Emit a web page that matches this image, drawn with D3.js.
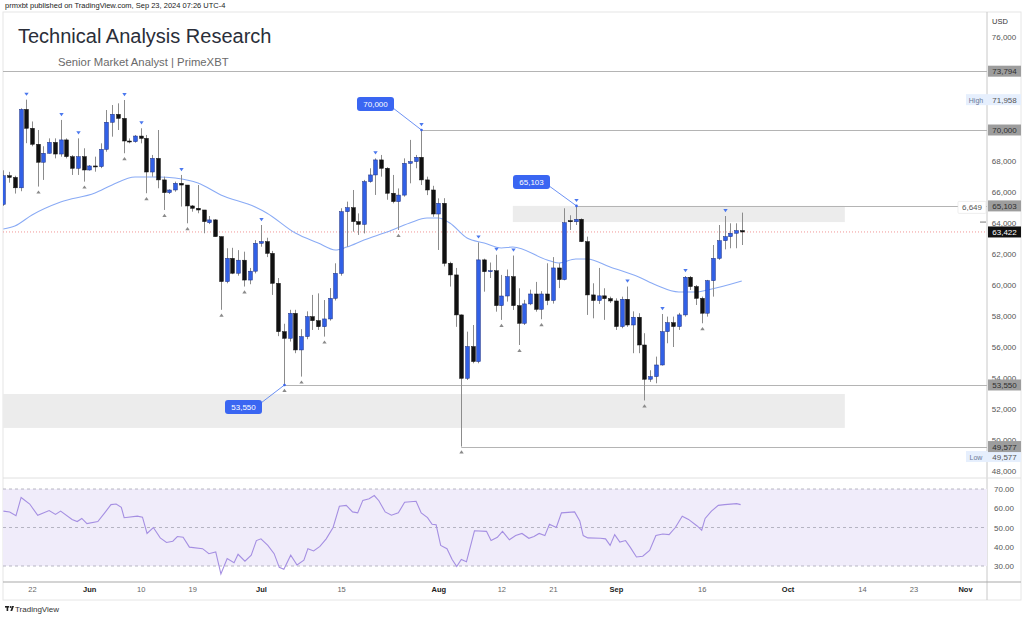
<!DOCTYPE html>
<html>
<head>
<meta charset="utf-8">
<script src="https://cdn.jsdelivr.net/npm/d3@7"></script>
<style>
body{margin:0;background:#fff;}
svg{display:block;font-family:"Liberation Sans",Arial,sans-serif;}
</style>
</head>
<body>
<svg id="chart" width="1024" height="617"></svg>
<script>
// daily candles, BTCUSD, starting 2024-05-17
var firstDay = "2024-05-17";
var opens = [65200,67050,66940,66270,71330,70110,69080,67920,68500,69200,68450,69360,68280,67530,68280,
  67420,67680,67640,68750,70500,71010,70750,69290,69250,69610,69460,67290,68170,66780,65960,66130,66560,66450,65100,64950,64840,64020,64200,63120,60220,61720,60760,61600,60320,60890,
  62690,62800,62040,60110,56990,56560,58170,55810,56670,57960,57700,57310,57810,59140,60750,64730,64990,64090,63910,66670,67100,68070,67530,65920,65380,65800,67850,67960,68240,66780,66130,
  64580,65270,61400,60650,58070,53980,56030,55060,61620,60860,60920,58670,59290,60540,58670,57530,58780,59420,58430,59420,59000,61100,60350,64150,64080,64240,62800,59360,59000,59300,59120,
  58970,57320,59080,57420,57920,56130,53920,54090,54840,56990,57570,57320,58070,60500,59900,59140,58180,60280,61720,62860,63120,63340,63510];
var highs = [67400,67300,67050,71400,71958,70550,70000,68950,69460,69460,70650,69460,68380,69460,68820,
  67740,68280,69140,71290,71610,71720,71935,69460,69680,70110,69680,68390,70000,66990,66170,66670,67100,66450,65160,66450,64840,64450,64250,63120,62370,62400,62250,62150,61100,62900,
  63870,63050,62200,60450,57500,58400,58400,57150,58300,59360,59460,59030,59800,61400,64950,65380,66130,64620,66780,67530,68170,68390,67600,67100,66230,68170,69360,68390,70000,66990,66400,
  65590,65600,61500,61100,58100,56990,57420,62750,61700,61450,61950,60650,61000,61900,59790,59040,59700,60200,59600,61400,61800,61400,64950,64500,65103,64300,63120,60110,61100,59790,59250,
  59140,59250,59900,58300,58180,56890,54500,55380,58130,57960,57960,58200,60580,60580,60000,59250,60330,62580,63870,64450,63980,63980,64670];
var lows = [65100,66600,65900,66050,69150,68950,66350,66780,68480,68170,68280,68170,67100,67100,66670,
  67380,67310,67540,68600,69570,70000,68500,69140,69180,69140,65920,66990,66240,64840,65870,66020,65060,63980,64730,64630,63340,63930,63120,58400,60110,60700,60600,59900,60050,60750,
  62470,61800,59360,56700,53550,56350,55600,54090,56500,57100,57100,56670,57700,59000,60600,62470,63440,63230,63330,66600,65810,66990,65500,65270,63550,65700,66560,67530,66450,65800,64400,
  62260,61200,59900,57300,49577,53870,54950,54950,59570,60450,58280,57750,58930,58390,56130,57420,58700,58280,57790,58700,58800,59800,60300,63550,63870,62770,58070,57850,58780,57750,58840,
  57100,57210,57300,55600,55600,52550,53750,53660,54800,56240,56000,57100,57960,59680,58710,57530,57960,59250,61620,62300,62370,62370,62580];
var closes = [67050,66940,66270,71330,70110,69080,67920,68500,69200,68450,69360,68280,67530,68280,67420,
  67680,67640,68750,70500,71010,70750,69290,69250,69610,69460,67290,68170,66780,65960,66130,66560,66450,65100,64950,64840,64090,64200,63120,60220,61720,60760,61600,60320,60890,62690,
  62800,62040,60110,56990,56560,58170,55810,56670,57960,57700,57310,57810,59140,60750,64730,64990,64090,63910,66670,67100,68070,67530,65920,65380,65800,67850,67960,68240,66780,66130,64580,
  65270,61400,60650,58070,53980,56030,55060,61620,60860,60920,58670,59290,60540,58670,57530,58780,59420,58430,59420,59000,61100,60350,64020,64080,64240,62800,59360,59000,59300,59120,58970,
  57320,59080,57420,57920,56130,53920,54090,54840,56990,57570,57320,58070,60500,59900,59140,58180,60280,61720,62860,63120,63340,63510,63422];

// pivot markers
var pivotHighDays = ["2024-05-21","2024-05-27","2024-05-30","2024-06-07","2024-06-10","2024-06-17","2024-07-01","2024-07-21",
  "2024-07-29","2024-08-08","2024-08-11","2024-08-14","2024-08-25","2024-09-03","2024-09-09","2024-09-13","2024-09-20"];
var pivotLowDays = ["2024-05-23","2024-05-31","2024-06-07","2024-06-11","2024-06-14","2024-06-18","2024-06-24","2024-06-28","2024-07-05",
  "2024-07-08","2024-07-12","2024-07-25","2024-08-05","2024-08-12","2024-08-15","2024-08-19","2024-09-06","2024-09-16"];

// moving average
var maDays = ["2024-05-17","2024-05-19","2024-05-22","2024-05-27","2024-06-02","2024-06-05","2024-06-09","2024-06-13","2024-06-16",
  "2024-06-20","2024-06-24","2024-06-30","2024-07-02","2024-07-07","2024-07-11","2024-07-14","2024-07-16","2024-07-19","2024-07-23",
  "2024-07-27","2024-07-30","2024-08-01","2024-08-03","2024-08-06","2024-08-09","2024-08-12","2024-08-14","2024-08-20","2024-08-22",
  "2024-08-25","2024-08-27","2024-08-31","2024-09-05","2024-09-08","2024-09-12","2024-09-15","2024-09-17","2024-09-23"];
var maValues = [63615,63810,64520,65355,65935,66450,66970,66970,66900,66580,65810,65030,64650,63355,62710,62260,62450,62900,63420,
  64000,64325,64325,64000,63030,62710,62390,62450,61615,61420,61680,61680,61160,60520,60000,59550,59550,59680,60260];

// RSI, days after firstDay
var rsiDays = [0,1.1,2.2,3.1,4.6,6,8,9.1,10,12,12.9,13.7,14.6,16.5,17.7,18.8,19.7,20.6,21.1,23.4,24.3,25.1,26.2,27.4,28.5,29.6,30.4,
  31.4,32.5,34.8,35.9,37.1,38,39.1,40.3,41,42.2,43.3,44.2,45,46.2,47.3,48.2,49,50.2,51.3,52.5,53.2,54.2,55.3,56.4,57.6,58.7,59.9,
  61,61.9,62.8,63.9,64.8,65.6,66.7,67.8,69,70.1,72.1,73,74.1,74.9,75.6,76.4,77.5,78.4,79.2,80,80.9,82.3,84.4,85.2,86.3,87.2,88.4,
  89.5,90.6,91.8,92.7,93.6,94.6,95.4,96.6,97.5,99.8,100.7,101.3,102.1,104.3,105.2,106,106.8,107.7,108.7,109.5,110.6,111.7,112.9,
  114,115.2,116.3,117.4,118.6,119.7,121.2,122,122.6,123.7,124.9,126,128.1,128.8];
var rsiValues = [58.5,58.1,56.1,65.6,62.2,56.3,58.8,56.8,58.5,54.2,53.1,54.7,52,53.1,57.6,61.9,62.2,60.5,55.1,55.9,55.4,46.9,50,44.6,
  42.2,42.9,45.3,44.9,39.8,39,36.4,37.3,25.9,33.9,31.7,36.1,32.5,35.6,43.2,44.1,40.7,36.4,29.3,28.3,35.6,30.5,33,39,37.8,40.2,44.1,
  50,61,61.5,58.1,57.6,64.1,64.9,66.6,63.9,58.1,56.4,57.6,63.1,63.6,57.6,55.1,51.7,51.4,40.7,39,33.4,29.7,33.4,32.2,48.3,48,43.2,
  44.9,48,43.6,45.8,46.9,44.4,45.3,46.9,45.8,51.7,50,57.6,58.1,53.4,45.8,44.6,44.4,44.1,40.7,46.3,42.4,43.2,39.8,34.7,35.1,38.1,
  45.8,46.6,46.3,50,55.9,54.2,50.8,48.6,54.7,58.5,61.5,61.9,62.4,61.9];

// levels and zones
var levelValues = [73794, 70000, 65103, 53550, 49577];
var levelStarts = [null, "2024-07-29", "2024-08-25", "2024-07-05", "2024-08-05"];
var zoneStarts = ["2024-08-14", null];
var zoneEnds = ["2024-10-11", "2024-10-11"];
var zoneTops = [65103, 52970];
var zoneBottoms = [64060, 50780];
var calloutLabels = ["70,000", "65,103", "53,550"];
var calloutDays = ["2024-07-29", "2024-08-25", "2024-07-05"];
var calloutPrices = [70000, 65103, 53550];
var lastPrice = 63422;
var rangeHigh = 71958, rangeLow = 49577, rangeDiff = "6,649";

var yTicks = [48000,50000,52000,54000,56000,58000,60000,62000,64000,66000,68000,70000,72000,74000,76000];
var rsiTicks = [30, 40, 50, 60, 70];
var timeTickDays = ["2024-05-22","2024-06-01","2024-06-10","2024-06-19","2024-07-01","2024-07-15","2024-08-01","2024-08-12",
  "2024-08-21","2024-09-01","2024-09-16","2024-10-01","2024-10-14","2024-10-23","2024-11-01"];
var timeTickLabels = ["22","Jun","10","19","Jul","15","Aug","12","21","Sep","16","Oct","14","23","Nov"];

function drawChart() {
  var svg = d3.select("#chart");
  var padL = 3, axisX = 987, padR = 1021, padT = 12, paneBottom = 478, rsiBottom = 582, padB = 600;

  var x = d3.scaleUtc()
    .domain([new Date("2024-05-22"), new Date("2024-11-01")])
    .range([32, 965]);
  var y = d3.scaleLinear().domain([48000, 76000]).range([471, 37]);
  var yr = d3.scaleLinear().domain([30, 70]).range([566, 489]);

  var day0 = new Date(firstDay);
  var candles = opens.map(function(o, i) {
    return {date: d3.utcDay.offset(day0, i), o: o, h: highs[i], l: lows[i], c: closes[i]};
  });
  var byDay = {};
  candles.forEach(function(d) { byDay[d3.utcFormat("%Y-%m-%d")(d.date)] = d; });

  var defs = svg.append("defs");
  defs.append("clipPath").attr("id", "mainClip").append("rect")
    .attr("x", padL).attr("y", padT).attr("width", axisX - padL).attr("height", paneBottom - padT);
  defs.append("clipPath").attr("id", "rsiClip").append("rect")
    .attr("x", padL).attr("y", paneBottom).attr("width", axisX - padL).attr("height", rsiBottom - paneBottom);

  // frame
  svg.append("rect").attr("x", padL).attr("y", padT).attr("width", padR - padL).attr("height", padB - padT)
    .attr("fill", "none").attr("stroke", "#e6e6e6");
  svg.append("line").attr("x1", axisX).attr("x2", axisX).attr("y1", padT).attr("y2", padB).attr("stroke", "#c8c8c8");
  svg.append("line").attr("x1", padL).attr("x2", padR).attr("y1", paneBottom).attr("y2", paneBottom).attr("stroke", "#e0e0e0");
  svg.append("line").attr("x1", padL).attr("x2", padR).attr("y1", rsiBottom).attr("y2", rsiBottom).attr("stroke", "#a9a9a9");

  var main = svg.append("g").attr("clip-path", "url(#mainClip)");

  // zones
  zoneTops.forEach(function(t, i) {
    var x0 = zoneStarts[i] ? x(new Date(zoneStarts[i])) : padL;
    main.append("rect")
      .attr("x", x0).attr("y", y(t))
      .attr("width", x(new Date(zoneEnds[i])) - x0)
      .attr("height", y(zoneBottoms[i]) - y(t))
      .attr("fill", "#ececec");
  });

  // horizontal levels
  levelValues.forEach(function(v, i) {
    var x0 = levelStarts[i] ? x(new Date(levelStarts[i])) : padL;
    main.append("line")
      .attr("x1", x0).attr("x2", axisX)
      .attr("y1", Math.round(y(v)) + 0.5).attr("y2", Math.round(y(v)) + 0.5)
      .attr("stroke", "#b4b4b4").attr("stroke-width", 1);
  });

  // last price line
  main.append("line")
    .attr("x1", padL).attr("x2", axisX)
    .attr("y1", y(lastPrice)).attr("y2", y(lastPrice))
    .attr("stroke", "#ef7b7b").attr("stroke-width", 0.8).attr("stroke-dasharray", "1,2");

  // moving average
  var maLine = d3.line()
    .x(function(d, i) { return x(new Date(maDays[i])); })
    .y(function(d) { return y(d); })
    .curve(d3.curveMonotoneX);
  main.append("path").datum(maValues).attr("d", maLine)
    .attr("fill", "none").attr("stroke", "#8aabf5").attr("stroke-width", 1.1);

  // candles
  var bw = 3.8;
  main.selectAll(".wick").data(candles).enter().append("line")
    .attr("class", "wick")
    .attr("x1", function(d) { return Math.round(x(d.date)) + 0.5; })
    .attr("x2", function(d) { return Math.round(x(d.date)) + 0.5; })
    .attr("y1", function(d) { return y(d.h); })
    .attr("y2", function(d) { return y(d.l); })
    .attr("stroke", "#8c8c8c").attr("stroke-width", 1);

  main.selectAll(".body").data(candles).enter().append("rect")
    .attr("class", "body")
    .attr("x", function(d) { return Math.round(x(d.date)) + 0.5 - bw / 2; })
    .attr("y", function(d) { return y(Math.max(d.o, d.c)); })
    .attr("width", bw)
    .attr("height", function(d) { return Math.max(1, Math.abs(y(d.o) - y(d.c))); })
    .attr("fill", function(d) { return d.c >= d.o ? "#3160e6" : "#111"; })
    .attr("stroke", function(d) { return d.c >= d.o ? "#1d2f80" : "#111"; })
    .attr("stroke-width", 0.5);

  // pivot markers
  main.selectAll(".ph").data(pivotHighDays).enter().append("path")
    .attr("class", "ph")
    .attr("d", function(s) {
      var d = byDay[s], cx = Math.round(x(d.date)) + 0.5, cy = y(d.h) - 7;
      return "M" + (cx - 2.2) + "," + cy + "L" + (cx + 2.2) + "," + cy + "L" + cx + "," + (cy + 3.2) + "Z";
    })
    .attr("fill", "#4b78ee");
  main.selectAll(".pl").data(pivotLowDays).enter().append("path")
    .attr("class", "pl")
    .attr("d", function(s) {
      var d = byDay[s], cx = Math.round(x(d.date)) + 0.5, cy = y(d.l) + 7;
      return "M" + (cx - 2.2) + "," + cy + "L" + (cx + 2.2) + "," + cy + "L" + cx + "," + (cy - 3.2) + "Z";
    })
    .attr("fill", "#8a8a8a");

  // callouts
  var calloutOffsets = [[-46, -26], [-45, -24], [-41, 22]];
  calloutLabels.forEach(function(lab, i) {
    var ax = Math.round(x(new Date(calloutDays[i]))) + 0.5, ay = y(calloutPrices[i]);
    var bx = ax + calloutOffsets[i][0], by = ay + calloutOffsets[i][1];
    var w = 37, h = 14;
    var ex = bx + w / 2 - 1, ey = by + (calloutOffsets[i][1] < 0 ? 4 : -4);
    svg.append("line").attr("x1", ex).attr("y1", ey).attr("x2", ax).attr("y2", ay)
      .attr("stroke", "#5b84f2").attr("stroke-width", 0.9);
    svg.append("circle").attr("cx", ax).attr("cy", ay).attr("r", 1.3).attr("fill", "#3b66ee");
    svg.append("rect").attr("x", bx - w / 2).attr("y", by - h / 2).attr("width", w).attr("height", h)
      .attr("rx", 3).attr("fill", "#3a66f2");
    svg.append("text").attr("x", bx).attr("y", by + 3).attr("text-anchor", "middle")
      .attr("font-size", 8).attr("fill", "#fff").text(lab);
  });

  // price axis
  var yAxis = d3.axisRight(y).tickValues(yTicks).tickSize(0).tickPadding(0).tickFormat(d3.format(","));
  var yg = svg.append("g").attr("transform", "translate(1004,0)").call(yAxis);
  yg.select(".domain").remove();
  yg.selectAll("text").attr("text-anchor", "middle").attr("font-size", 8)
    .attr("font-family", "Liberation Sans, Arial, sans-serif").attr("fill", "#555");
  svg.append("text").attr("x", 1000).attr("y", 24).attr("text-anchor", "middle")
    .attr("font-size", 7.5).attr("fill", "#333").text("USD");
  // zone edge mark on the axis
  svg.append("line").attr("x1", 980).attr("x2", 986).attr("y1", y(zoneBottoms[0])).attr("y2", y(zoneBottoms[0]))
    .attr("stroke", "#777").attr("stroke-width", 1);

  function tag(v, txt, bg, fg) {
    var cy = y(v);
    svg.append("rect").attr("x", 988).attr("y", cy - 5.5).attr("width", 33).attr("height", 11)
      .attr("fill", bg);
    svg.append("text").attr("x", 1004.5).attr("y", cy + 3).attr("text-anchor", "middle")
      .attr("font-size", 8).attr("fill", fg).text(txt);
  }
  // high / low tags
  [[rangeHigh, "High", 0], [rangeLow, "Low", 10]].forEach(function(t) {
    var cy = y(t[0]) + t[2];
    svg.append("rect").attr("x", 966).attr("y", cy - 5.5).attr("width", 55).attr("height", 11)
      .attr("fill", "#e6effd");
    svg.append("text").attr("x", 976).attr("y", cy + 3).attr("text-anchor", "middle")
      .attr("font-size", 7).attr("fill", "#6b7a99").text(t[1]);
    svg.append("text").attr("x", 1004.5).attr("y", cy + 3).attr("text-anchor", "middle")
      .attr("font-size", 8).attr("fill", "#555").text(d3.format(",")(t[0]));
  });
  levelValues.forEach(function(v) { tag(v, d3.format(",")(v), "#9d9d9d", "#2e2e2e"); });
  tag(lastPrice, d3.format(",")(lastPrice), "#111", "#fff");

  // range difference label
  var dy = y(levelValues[2]) + 1.5;
  svg.append("rect").attr("x", 958).attr("y", dy - 6).attr("width", 28).attr("height", 12)
    .attr("fill", "#fff").attr("stroke", "#e2e2e2").attr("stroke-width", 0.6).attr("rx", 1);
  svg.append("text").attr("x", 972).attr("y", dy + 3).attr("text-anchor", "middle")
    .attr("font-size", 8).attr("fill", "#555").text(rangeDiff);

  // RSI pane
  var rsi = svg.append("g").attr("clip-path", "url(#rsiClip)");
  rsi.append("rect").attr("x", padL).attr("y", yr(70)).attr("width", axisX - padL).attr("height", yr(30) - yr(70))
    .attr("fill", "#f0ecfa");
  [70, 50, 30].forEach(function(v) {
    rsi.append("line").attr("x1", padL).attr("x2", axisX).attr("y1", yr(v)).attr("y2", yr(v))
      .attr("stroke", "#a6a6b4").attr("stroke-width", 0.8).attr("stroke-dasharray", "3,3");
  });
  var rsiLine = d3.line()
    .x(function(d, i) { return x(new Date(day0.getTime() + rsiDays[i] * 864e5)); })
    .y(function(d) { return yr(d); });
  rsi.append("path").datum(rsiValues).attr("d", rsiLine)
    .attr("fill", "none").attr("stroke", "#a58fe2").attr("stroke-width", 1.1);

  var rAxis = d3.axisRight(yr).tickValues(rsiTicks).tickSize(0).tickPadding(0).tickFormat(d3.format(".2f"));
  var rg = svg.append("g").attr("transform", "translate(1004,0)").call(rAxis);
  rg.select(".domain").remove();
  rg.selectAll("text").attr("text-anchor", "middle").attr("font-size", 8)
    .attr("font-family", "Liberation Sans, Arial, sans-serif").attr("fill", "#555");

  // time axis
  var xAxis = d3.axisBottom(x)
    .tickValues(timeTickDays.map(function(s) { return new Date(s); }))
    .tickSize(0).tickPadding(0)
    .tickFormat(function(d, i) { return timeTickLabels[i]; });
  var xg = svg.append("g").attr("transform", "translate(0,587)").call(xAxis);
  xg.select(".domain").remove();
  xg.selectAll("text").attr("font-size", 7.5)
    .attr("font-family", "Liberation Sans, Arial, sans-serif")
    .attr("fill", function(d, i) { return /[A-Za-z]/.test(timeTickLabels[i]) ? "#222" : "#666"; })
    .attr("font-weight", function(d, i) { return /[A-Za-z]/.test(timeTickLabels[i]) ? "bold" : "normal"; });

  // header, title, footer
  svg.append("text").attr("x", 5).attr("y", 8).attr("font-size", 7.5).attr("fill", "#222")
    .text("prmxbt published on TradingView.com, Sep 23, 2024 07:26 UTC-4");
  svg.append("text").attr("x", 18).attr("y", 43).attr("font-size", 20).attr("fill", "#2a2e39")
    .text("Technical Analysis Research");
  svg.append("text").attr("x", 58).attr("y", 66).attr("font-size", 11.3).attr("fill", "#6a6a6a")
    .text("Senior Market Analyst | PrimeXBT");
  // TradingView mark
  var logo = svg.append("g").attr("transform", "translate(5,606)").attr("fill", "#222");
  logo.append("rect").attr("x", 0).attr("y", 0).attr("width", 4).attr("height", 1.6);
  logo.append("rect").attr("x", 1.6).attr("y", 0).attr("width", 1.6).attr("height", 5);
  logo.append("circle").attr("cx", 5.6).attr("cy", 1).attr("r", 1);
  logo.append("path").attr("d", "M7,0 L9,0 L7.2,5 L5.4,5 Z");
  svg.append("text").attr("x", 15).attr("y", 612).attr("font-size", 8).attr("fill", "#333")
    .text("TradingView");
}

drawChart();
</script>
</body>
</html>
